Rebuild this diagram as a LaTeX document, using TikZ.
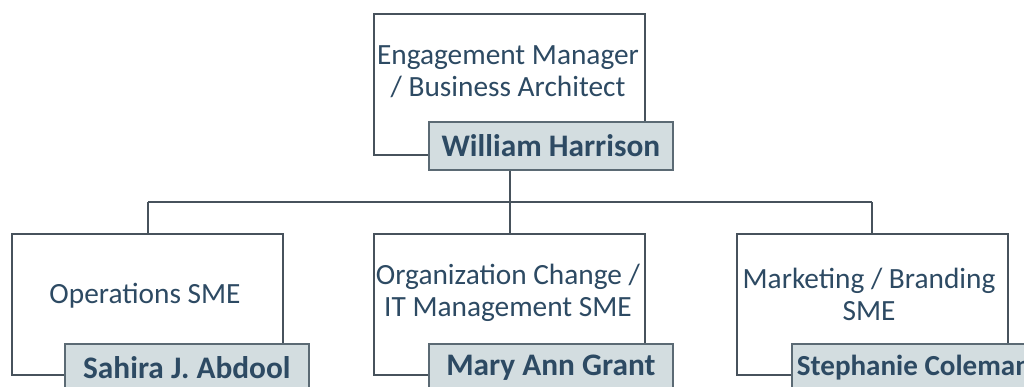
\documentclass[tikz,border=0pt]{standalone}
\usepackage{fontspec}
\setmainfont{Carlito}
\begin{document}
\definecolor{inkblue}{HTML}{2D4A63}
\definecolor{frame}{HTML}{47525C}
\definecolor{namefill}{HTML}{D3DDE0}
\definecolor{nameedge}{HTML}{5B6A74}
\begin{tikzpicture}[x=0.75pt,y=-0.75pt,
  rolebox/.style={draw=frame,line width=1.3pt,fill=white,minimum width=271*0.75pt,minimum height=141*0.75pt,anchor=north west,inner sep=0pt},
  roletext/.style={text=inkblue,font=\fontsize{22}{24}\selectfont,align=center},
  namebox/.style={draw=nameedge,line width=1.3pt,fill=namefill,minimum width=244*0.75pt,minimum height=48*0.75pt,anchor=north west,inner sep=0pt,text=inkblue,font=\fontsize{23.5}{26}\selectfont\bfseries},
  link/.style={draw=frame,line width=1.3pt}]
\useasboundingbox (0,0) rectangle (1024,386);
\clip (0,0) rectangle (1024,386);
\fill[white] (0,0) rectangle (1024,386);

% connectors
\coordinate (bus) at (510,202);
\coordinate (busL) at (148,202);
\coordinate (busR) at (872,202);

% top role
\node[rolebox] (top) at (373,13) {};
\node[roletext] (toptxt) at (508,72) {Engagement Manager\\/ Business Architect};
\node[namebox] (topname) at (428,121) {\raisebox{-1pt}{William Harrison}};

% bottom roles
\node[rolebox] (ops) at (11,233) {};
\node[roletext] (opstxt) at (145,296) {Operations SME};
\node[namebox] (opsname) at (64,343) {\raisebox{-3pt}{Sahira J. Abdool}};

\node[rolebox] (org) at (373,233) {};
\node[roletext] (orgtxt) at (508,293) {Organization Change /\\IT Management SME};
\node[namebox] (orgname) at (428,343) {\raisebox{-3pt}{Mary Ann Grant}};

\node[rolebox] (mkt) at (736,233) {};
\node[roletext] (mkttxt) at (869,294) {Marketing / Branding\\SME};
\node[namebox,font=\fontsize{21.8}{24}\selectfont\bfseries] (mktname) at (791,343) {\raisebox{-3pt}{Stephanie Coleman}};

\draw[link] (topname.south -| bus) -- (bus);
\draw[link] (busL) -- (busR);
\draw[link] (busL) -- (busL |- ops.north);
\draw[link] (bus) -- (bus |- org.north);
\draw[link] (busR) -- (busR |- mkt.north);
\end{tikzpicture}
\end{document}
